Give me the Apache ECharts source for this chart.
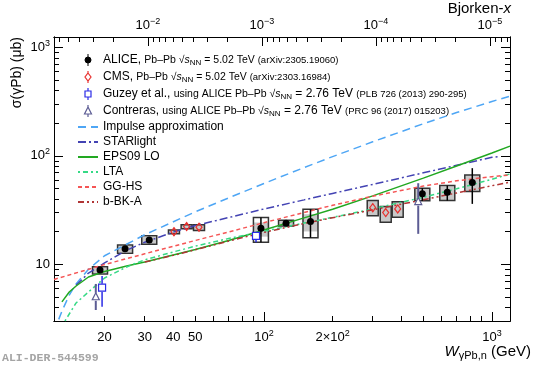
<!DOCTYPE html>
<html>
<head>
<meta charset="utf-8">
<script src="https://cdn.jsdelivr.net/npm/echarts@6/dist/echarts.min.js"></script>
<style>
  html, body { margin: 0; padding: 0; background: #fff; }
  #main { width: 538px; height: 365px; }
</style>
</head>
<body>
<div id="main"></div>
<script>
// J/psi mass, Bjorken-x = (M / W)^2
const mJpsi = 3.097
const wRange = [12, 1200]
const sigRange = [3, 1250]

// tick labels
const xTickValues = [20, 30, 40, 50, 100, 200, 1000]
const xTickLabels = ['20', '30', '40', '50', '10^2', '2×10^2', '10^3']
const xMinorTicks = [20, 30, 40, 50, 60, 70, 80, 90, 200, 300, 400, 500, 600, 700, 800, 900]
const xMajorTicks = [100, 1000]
const bjTickValues = [1e-2, 1e-3, 1e-4, 1e-5]
const bjTickLabels = ['10^−2', '10^−3', '10^−4', '10^−5']
const yTickValues = [10, 100, 1000]
const yTickLabels = ['10', '10^2', '10^3']
const yMinorTicks = [4, 5, 6, 7, 8, 9, 20, 30, 40, 50, 60, 70, 80, 90, 200, 300, 400, 500, 600, 700, 800, 900]

// ALICE Pb-Pb 5.02 TeV
const aliceW = [19.1, 24.6, 31.4, 97, 125, 160, 495, 637, 820]
const aliceSig = [8.87, 13.9, 16.8, 21.5, 23.9, 24.8, 44.7, 46.3, 56.8]
const aliceStatLo = [8.6, 13.5, 16.3, 16.0, 23.0, 17.6, 38.5, 38.7, 36.1]
const aliceStatHi = [9.2, 14.3, 17.3, 27.0, 24.8, 32.2, 50.4, 53.2, 77.1]
const aliceSysLo = [8.15, 12.65, 15.3, 16.0, 22.6, 17.6, 38.5, 38.7, 46.9]
const aliceSysHi = [9.51, 15.1, 18.3, 27.0, 25.5, 32.2, 50.4, 53.2, 66.8]
const aliceUncLo = [8.3, 12.9, 15.5, 18.0, 22.8, 20.1, 39.0, 39.2, 47.5]
const aliceUncHi = [9.35, 14.8, 18.0, 24.3, 25.2, 29.0, 49.8, 52.5, 66.0]

// CMS Pb-Pb 5.02 TeV
const cmsW = [40.3, 45.8, 51.9, 300, 342, 386]
const cmsSig = [20.0, 22.3, 22.0, 33.3, 30.0, 32.4]
const cmsStatLo = [19.3, 21.6, 21.2, 31.2, 28.0, 30.3]
const cmsStatHi = [20.7, 23.0, 22.8, 35.5, 32.0, 34.6]
const cmsSysLo = [19.1, 21.3, 20.5, 28.0, 24.4, 27.2]
const cmsSysHi = [20.7, 23.2, 23.2, 38.7, 34.1, 37.7]

// Guzey et al. / Contreras (ALICE 2.76 TeV)
const guzeyW = [19.5, 92.3]
const guzeySig = [6.09, 18.3]
const guzeyLo = [4.06, 16.0]
const guzeyHi = [7.82, 20.0]
const contrW = [18.3, 475]
const contrSig = [5.02, 37.9]
const contrLo = [3.79, 19.1]
const contrHi = [6.59, 56.0]

// models
const impulseW = [12, 13, 14, 15, 17, 20, 30, 50, 70, 100, 150, 200, 300, 500, 700, 1000, 1200]
const impulseSig = [2.4, 3.7, 5.2, 6.6, 9.0, 12.0, 18.75, 30.5, 41.0, 55.7, 78.0, 98.5, 135, 198, 251, 318, 356]
const starlightW = [15, 17, 20, 25, 30, 40, 50, 70, 100, 150, 200, 300, 500, 700, 1000, 1085]
const starlightSig = [6.4, 8.3, 10.3, 13.5, 16.0, 19.8, 22.8, 27.0, 32.4, 39.3, 45.1, 54.6, 69.8, 81.9, 97.1, 99]
const eps09W = [13, 14, 15, 17, 20, 25, 30, 40, 50, 70, 100, 150, 200, 300, 500, 700, 1000, 1200]
const eps09Sig = [4.5, 5.56, 6.31, 7.64, 8.59, 9.66, 10.5, 12.2, 13.7, 16.6, 20.7, 26.8, 32.2, 42.8, 62.4, 80.6, 106.5, 123.2]
const ltaW = [13.4, 15, 17, 20, 25, 30, 40, 50, 70, 100, 150, 200, 300, 500, 700, 1000, 1200]
const ltaSig = [3.0, 4.4, 5.56, 7.48, 9.46, 11.0, 13.0, 14.7, 17.3, 20.2, 24.0, 27.1, 32.4, 41.6, 49.7, 60.9, 68.2]
const gghsW = [12, 20, 30, 50, 70, 100, 150, 200, 300, 500, 700, 1000, 1200]
const gghsSig = [7.25, 9.95, 12.5, 16.6, 19.9, 24.2, 30.1, 35.0, 42.5, 52.7, 58.9, 64.4, 66.8]
const bbkW = [30, 40, 50, 70, 100, 150, 200, 300, 500, 700, 1000, 1200]
const bbkSig = [10.5, 12.1, 13.6, 16.4, 19.7, 23.8, 26.9, 31.8, 39.4, 45.5, 53.1, 57.3]

const lg = Math.log10
const font = 'Liberation Sans'
const xExt = [lg(wRange[0]), lg(wRange[1])]
const yExt = [lg(sigRange[0]), lg(sigRange[1])]
const bjExt = [2 * (lg(mJpsi) - xExt[1]), 2 * (lg(mJpsi) - xExt[0])]

const bjMinorTicks = []
for (let n = -6; n <= -2; n++) {
  for (let k = 2; k <= 9; k++) {
    const v = lg(k) + n
    if (v > bjExt[0] && v < bjExt[1]) bjMinorTicks.push(v)
  }
}

function supRich(s) {
  const p = s.split('^')
  return p.length > 1 ? '{b|' + p[0] + '}{s|' + p[1] + '}' : '{b|' + p[0] + '}'
}
function labelFormatter(values, labels, toLog) {
  return function (v) {
    const i = values.findIndex(t => Math.abs(toLog(t) - v) < 1e-6)
    return i < 0 ? '' : supRich(labels[i])
  }
}
const tickRich = {
  b: { fontSize: 13, lineHeight: 17, fontFamily: font, color: '#000' },
  s: { fontSize: 9, lineHeight: 9, padding: [0, 0, 8, 0], fontFamily: font, color: '#000' }
}

function axisBase(extra) {
  return Object.assign({
    type: 'value',
    splitLine: { show: false },
    axisLine: { show: true, onZero: false, lineStyle: { color: '#000', width: 1 } },
    axisLabel: { show: false },
    axisTick: { show: false }
  }, extra)
}
function ticks(len, values) {
  return { show: true, inside: true, length: len, customValues: values, lineStyle: { color: '#000', width: 1 } }
}

// systematic boxes (outline) with grey filled uncorrelated part
function boxSeries(name, data, width) {
  return {
    type: 'custom',
    name: name,
    z: 1,
    clip: true,
    data: data,
    renderItem: function (params, api) {
      const x = api.value(0)
      const lo = api.coord([x, api.value(1)])
      const hi = api.coord([x, api.value(2)])
      const ilo = api.coord([x, api.value(3)])
      const ihi = api.coord([x, api.value(4)])
      const x0 = lo[0] - width / 2
      return {
        type: 'group',
        children: [
          { type: 'rect', shape: { x: x0, y: ihi[1], width: width, height: ilo[1] - ihi[1] }, style: { fill: '#c8c8c8' } },
          { type: 'rect', shape: { x: x0, y: hi[1], width: width, height: lo[1] - hi[1] }, style: { fill: 'none', stroke: '#333', lineWidth: 1.5 } }
        ]
      }
    }
  }
}

// points with vertical error bars
function pointSeries(name, data, color, marker, lw) {
  return {
    type: 'custom',
    name: name,
    z: 4,
    clip: true,
    data: data,
    renderItem: function (params, api) {
      const x = api.value(0)
      const p = api.coord([x, api.value(1)])
      const lo = api.coord([x, api.value(2)])
      const hi = api.coord([x, api.value(3)])
      const cx = p[0], cy = p[1]
      const gap = marker === 'dot' ? 0 : 4
      const kids = [
        { type: 'line', shape: { x1: cx, y1: hi[1], x2: cx, y2: Math.min(lo[1], cy - gap) }, style: { stroke: color, lineWidth: lw } },
        { type: 'line', shape: { x1: cx, y1: Math.max(hi[1], cy + gap), x2: cx, y2: lo[1] }, style: { stroke: color, lineWidth: lw } }
      ]
      const open = { fill: 'none', stroke: color, lineWidth: 1.2 }
      if (marker === 'dot') kids.push({ type: 'circle', shape: { cx: cx, cy: cy, r: 3.5 }, style: { fill: color } })
      if (marker === 'diamond') kids.push({ type: 'polygon', shape: { points: [[cx, cy - 4], [cx + 3, cy], [cx, cy + 4], [cx - 3, cy]] }, style: open })
      if (marker === 'square') kids.push({ type: 'rect', shape: { x: cx - 3.5, y: cy - 3.5, width: 7, height: 7 }, style: Object.assign({}, open, { fill: '#fff' }) })
      if (marker === 'triangle') kids.push({ type: 'polygon', shape: { points: [[cx, cy - 4], [cx + 3.5, cy + 3], [cx - 3.5, cy + 3]] }, style: Object.assign({}, open, { fill: '#fff' }) })
      return { type: 'group', children: kids }
    }
  }
}

function modelSeries(name, ws, sig, color, dash) {
  return {
    type: 'line',
    name: name,
    z: 2,
    symbol: 'none',
    smooth: false,
    clip: true,
    data: ws.map((w, i) => [lg(w), lg(sig[i])]),
    lineStyle: { color: color, width: 1.5, type: dash },
    itemStyle: { color: color }
  }
}

const aliceBoxes = aliceW.map((w, i) => [lg(w), lg(aliceSysLo[i]), lg(aliceSysHi[i]), lg(aliceUncLo[i]), lg(aliceUncHi[i])])
const cmsBoxes = cmsW.map((w, i) => [lg(w), lg(cmsSysLo[i]), lg(cmsSysHi[i]), lg(cmsSysLo[i]), lg(cmsSysHi[i])])
const alicePts = aliceW.map((w, i) => [lg(w), lg(aliceSig[i]), lg(aliceStatLo[i]), lg(aliceStatHi[i])])
const cmsPts = cmsW.map((w, i) => [lg(w), lg(cmsSig[i]), lg(cmsStatLo[i]), lg(cmsStatHi[i])])
const guzeyPts = guzeyW.map((w, i) => [lg(w), lg(guzeySig[i]), lg(guzeyLo[i]), lg(guzeyHi[i])])
const contrPts = contrW.map((w, i) => [lg(w), lg(contrSig[i]), lg(contrLo[i]), lg(contrHi[i])])

const legendText = {
  'ALICE': '{n|ALICE, }{m|Pb–Pb √}{i|s}{sub|NN}{m| = 5.02 TeV }{r|(arXiv:2305.19060)}',
  'CMS': '{n|CMS, }{m|Pb–Pb √}{i|s}{sub|NN}{m| = 5.02 TeV }{r|(arXiv:2303.16984)}',
  'Guzey': '{n|Guzey et al., }{m|using ALICE Pb–Pb √}{i|s}{sub|NN}{n| = 2.76 TeV }{r|(PLB 726 (2013) 290-295)}',
  'Contreras': '{n|Contreras, }{m|using ALICE Pb–Pb √}{i|s}{sub|NN}{n| = 2.76 TeV }{r|(PRC 96 (2017) 015203)}',
  'Impulse approximation': '{n|Impulse approximation}',
  'STARlight': '{n|STARlight}',
  'EPS09 LO': '{n|EPS09 LO}',
  'LTA': '{n|LTA}',
  'GG-HS': '{n|GG-HS}',
  'b-BK-A': '{n|b-BK-A}'
}
const lineEntry = name => ({ name: name, itemStyle: { opacity: 0 } })

const chart = echarts.init(document.getElementById('main'), null, { renderer: 'canvas' })
chart.setOption({
  animation: false,
  backgroundColor: '#fff',
  grid: { left: 54, right: 28, top: 37, bottom: 44, containLabel: false, outerBoundsMode: 'none' },
  xAxis: [
    axisBase({
      position: 'bottom', min: xExt[0], max: xExt[1],
      axisTick: ticks(5, xMinorTicks.map(lg)),
      axisLabel: { show: true, margin: 8, customValues: xTickValues.map(lg), formatter: labelFormatter(xTickValues, xTickLabels, lg), rich: tickRich }
    }),
    axisBase({ position: 'bottom', min: xExt[0], max: xExt[1], axisTick: ticks(9, xMajorTicks.map(lg)) }),
    axisBase({
      position: 'top', inverse: true, min: bjExt[0], max: bjExt[1],
      axisTick: ticks(5, bjMinorTicks),
      axisLabel: { show: true, margin: 3, customValues: bjTickValues.map(lg), formatter: labelFormatter(bjTickValues, bjTickLabels, lg), rich: tickRich }
    }),
    axisBase({ position: 'top', inverse: true, min: bjExt[0], max: bjExt[1], axisTick: ticks(9, bjTickValues.map(lg)) })
  ],
  yAxis: [
    axisBase({
      position: 'left', min: yExt[0], max: yExt[1],
      axisTick: ticks(5, yMinorTicks.map(lg)),
      axisLabel: { show: true, margin: 4, customValues: yTickValues.map(lg), formatter: labelFormatter(yTickValues, yTickLabels, lg), rich: tickRich }
    }),
    axisBase({ position: 'left', min: yExt[0], max: yExt[1], axisTick: ticks(9, yTickValues.map(lg)) }),
    axisBase({ position: 'right', min: yExt[0], max: yExt[1], axisTick: ticks(5, yMinorTicks.map(lg)) }),
    axisBase({ position: 'right', min: yExt[0], max: yExt[1], axisTick: ticks(9, yTickValues.map(lg)) })
  ],
  legend: {
    orient: 'vertical',
    left: 77,
    top: 53,
    padding: 0,
    itemGap: 3,
    itemWidth: 20,
    itemHeight: 12,
    selectedMode: false,
    formatter: name => legendText[name],
    textStyle: {
      color: '#000',
      fontFamily: font,
      rich: {
        n: { fontSize: 12, lineHeight: 14, fontFamily: font },
        m: { fontSize: 10.5, lineHeight: 14, fontFamily: font },
        i: { fontSize: 10.5, lineHeight: 14, fontStyle: 'italic', fontFamily: font },
        sub: { fontSize: 8, lineHeight: 8, padding: [6, 0, 0, 0], fontFamily: font },
        r: { fontSize: 9.5, lineHeight: 14, fontFamily: font }
      }
    },
    data: [
      { name: 'ALICE', icon: 'path://M0,0M20,12M10,0L10,12M13,6A3,3,0,1,1,7,6A3,3,0,1,1,13,6Z', itemStyle: { color: '#000', borderColor: '#000', borderWidth: 1 } },
      { name: 'CMS', icon: 'path://M0,0M20,12M10,0L10,2M10,10L10,12M10,2L13,6L10,10L7,6Z', itemStyle: { color: 'rgba(0,0,0,0)', borderColor: '#e8312f', borderWidth: 1.2 } },
      { name: 'Guzey', icon: 'path://M0,0M20,12M10,0L10,3M10,9L10,12M7,3L13,3L13,9L7,9Z', itemStyle: { color: 'rgba(0,0,0,0)', borderColor: '#2a2ae6', borderWidth: 1.2 } },
      { name: 'Contreras', icon: 'path://M0,0M20,12M10,0L10,2M10,9L10,12M10,2L13.5,9L6.5,9Z', itemStyle: { color: 'rgba(0,0,0,0)', borderColor: '#5c5c94', borderWidth: 1.2 } },
      lineEntry('Impulse approximation'), lineEntry('STARlight'), lineEntry('EPS09 LO'),
      lineEntry('LTA'), lineEntry('GG-HS'), lineEntry('b-BK-A')
    ]
  },
  graphic: [
    { type: 'text', x: 17, y: 37, rotation: Math.PI / 2, style: { text: 'σ(γPb) (μb)', fontSize: 14, fontFamily: font, fill: '#000', align: 'right', verticalAlign: 'middle' } },
    {
      type: 'text', x: 531, y: 352,
      style: {
        text: '{w|W}{sub|γPb,n}{t| (GeV)}', align: 'right', verticalAlign: 'middle', fill: '#000',
        rich: {
          w: { fontSize: 15, lineHeight: 18, fontStyle: 'italic', fontFamily: font },
          sub: { fontSize: 11, lineHeight: 10, padding: [8, 0, 0, 0], fontFamily: font },
          t: { fontSize: 15, lineHeight: 18, fontFamily: font }
        }
      }
    },
    {
      type: 'text', x: 511, y: 9,
      style: {
        text: '{t|Bjorken-}{i|x}', align: 'right', verticalAlign: 'middle', fill: '#000',
        rich: {
          t: { fontSize: 15, fontFamily: font },
          i: { fontSize: 15, fontStyle: 'italic', fontFamily: font }
        }
      }
    },
    { type: 'text', x: 2, y: 358, style: { text: 'ALI-DER-544599', fontSize: 11.5, fontWeight: 'bold', fontFamily: 'Liberation Mono', fill: '#a4a4a4', verticalAlign: 'middle' } }
  ],
  series: [
    boxSeries('ALICE syst', aliceBoxes, 15),
    boxSeries('CMS syst', cmsBoxes, 11),
    modelSeries('Impulse approximation', impulseW, impulseSig, '#4ea6f5', [8, 5]),
    modelSeries('STARlight', starlightW, starlightSig, '#4343b3', [8, 3, 2, 3]),
    modelSeries('EPS09 LO', eps09W, eps09Sig, '#22a822', 'solid'),
    modelSeries('LTA', ltaW, ltaSig, '#35d985', [2, 3, 5, 3]),
    modelSeries('GG-HS', gghsW, gghsSig, '#f55555', [4, 3]),
    modelSeries('b-BK-A', bbkW, bbkSig, '#b03535', [6, 3, 2, 3, 2, 3]),
    pointSeries('ALICE', alicePts, '#000', 'dot', 1.5),
    pointSeries('CMS', cmsPts, '#e8312f', 'diamond', 1.2),
    pointSeries('Guzey', guzeyPts, '#2a2ae6', 'square', 1.5),
    pointSeries('Contreras', contrPts, '#5c5c94', 'triangle', 2)
  ]
})
</script>
</body>
</html>
